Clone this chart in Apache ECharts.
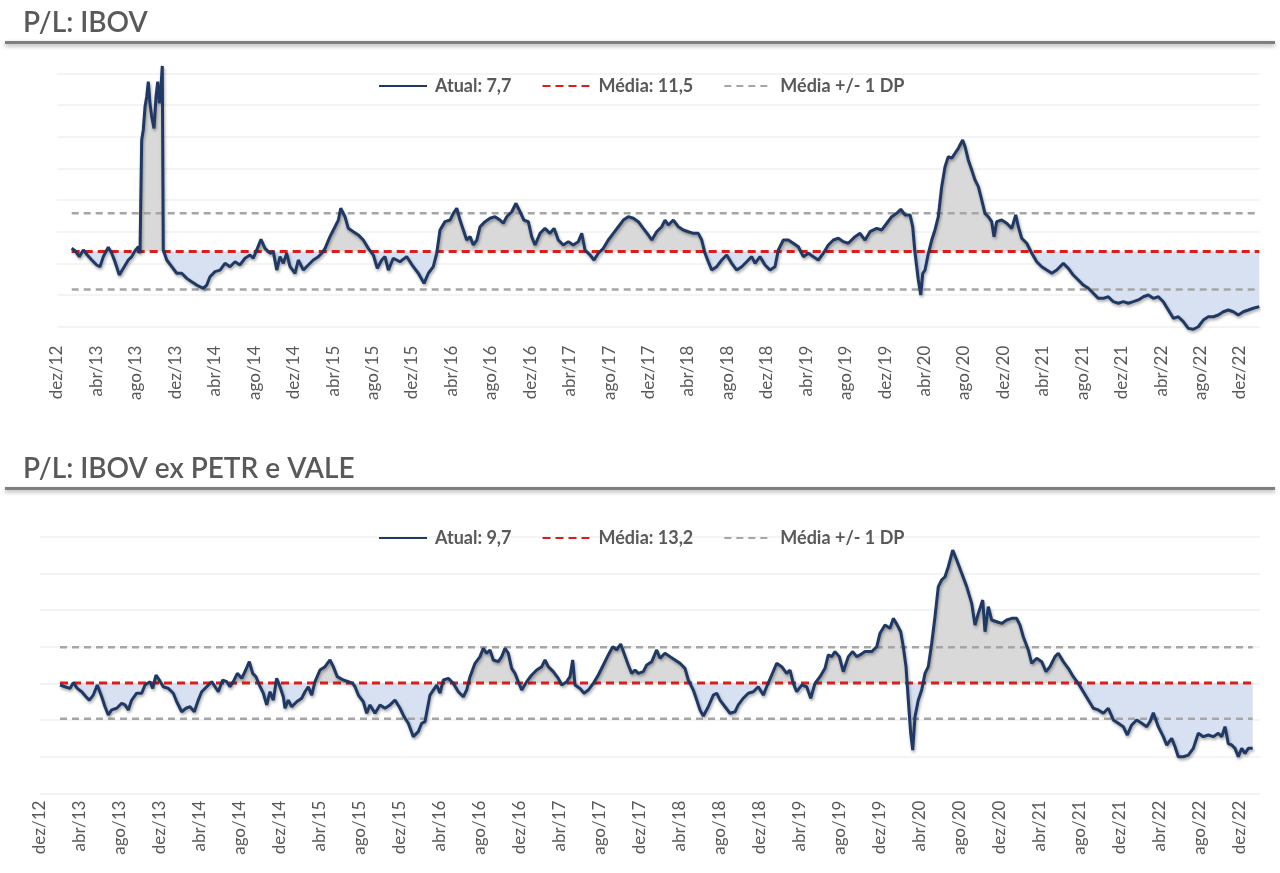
<!DOCTYPE html>
<html>
<head>
<meta charset="utf-8">
<script src="https://cdn.jsdelivr.net/npm/echarts@6/dist/echarts.min.js"></script>
<style>html,body{margin:0;padding:0;background:#fff}#c{width:1280px;height:873px}</style>
</head>
<body>
<div id="c"></div>
<script>
// ---- Tick labels (x axis, every 4 months starting dez/12) ----
const xTickLabels = ['dez/12','abr/13','ago/13','dez/13','abr/14','ago/14','dez/14','abr/15','ago/15','dez/15',
  'abr/16','ago/16','dez/16','abr/17','ago/17','dez/17','abr/18','ago/18','dez/18','abr/19','ago/19','dez/19',
  'abr/20','ago/20','dez/20','abr/21','ago/21','dez/21','abr/22','ago/22','dez/22'];

// ---- Panel 1: P/L IBOV (x = months since dez/12) ----
const ibovMonths = [1.49,1.83,2.26,2.67,3.07,3.52,4.03,4.36,4.70,5.20,
  5.55,5.88,6.32,6.73,7.23,7.58,7.91,8.25,8.42,8.59,
  8.75,8.93,9.10,9.26,9.43,9.61,9.84,10.04,10.22,10.38,
  10.55,10.68,10.78,11.13,11.64,12.14,12.65,13.16,13.66,14.17,
  14.84,15.19,15.52,16.03,16.54,17.04,17.55,18.06,18.56,19.07,
  19.58,19.91,20.26,20.69,21.10,21.61,21.94,22.29,22.62,22.96,
  23.30,23.64,24.14,24.48,24.99,25.49,26.00,26.51,26.85,27.19,
  27.69,28.20,28.54,28.78,29.21,29.55,30.06,30.56,31.07,31.58,
  32.09,32.49,32.94,33.27,33.61,34.11,34.79,35.47,36.14,36.65,
  37.23,37.67,38.17,38.52,38.85,39.36,39.87,40.20,40.55,40.88,
  41.22,41.56,41.90,42.23,42.58,42.91,43.42,43.92,44.43,44.94,
  45.27,45.62,46.13,46.56,46.97,47.37,47.81,48.15,48.49,49.00,
  49.50,50.01,50.42,50.85,51.36,51.87,52.37,52.88,53.23,53.56,
  54.07,54.47,54.91,55.42,55.92,56.43,56.94,57.45,57.95,58.46,
  58.97,59.47,59.98,60.33,60.83,61.34,61.68,62.01,62.52,63.03,
  63.53,64.04,64.55,65.05,65.40,65.73,66.07,66.41,66.92,67.43,
  67.93,68.44,68.95,69.46,69.96,70.47,70.81,71.31,71.82,72.33,
  72.83,73.17,73.68,74.18,74.69,75.20,75.71,76.21,76.72,77.23,
  77.73,78.24,78.75,79.26,79.76,80.27,80.95,81.46,81.96,82.47,
  83.15,83.66,84.17,84.67,85.18,85.59,86.02,86.53,86.80,87.04,
  87.37,87.62,87.82,88.05,88.39,88.73,89.06,89.40,89.74,90.08,
  90.41,90.76,91.09,91.43,91.87,92.11,92.44,92.79,93.12,93.46,
  93.80,94.13,94.47,94.81,95.05,95.32,95.83,96.34,96.85,97.25,
  97.52,97.86,98.37,98.88,99.38,99.89,100.40,100.91,101.41,102.08,
  102.59,103.09,103.60,104.11,104.62,105.12,105.63,106.14,106.64,107.15,
  107.66,108.17,108.67,109.18,109.69,110.20,110.70,111.21,111.72,112.22,
  112.73,113.24,113.74,114.25,114.76,115.27,115.77,116.28,116.79,117.30,
  117.80,118.31,118.82,119.32,119.83,120.34,120.85,121.35,121.96];
const ibovPL = [11.71,11.55,11.14,11.60,11.25,10.91,10.57,10.45,11.14,11.78,
  11.37,10.79,9.88,10.34,10.91,11.14,11.55,11.82,11.37,19.14,
  19.83,21.43,22.11,23.14,21.66,20.74,19.94,22.11,23.14,21.66,
  22.80,24.22,11.60,10.91,10.45,10.00,10.00,9.65,9.42,9.19,
  8.97,9.19,9.76,10.11,10.22,10.68,10.45,10.79,10.57,11.03,
  11.25,11.03,11.60,12.33,11.71,11.37,11.48,10.22,11.14,10.68,
  11.37,10.45,10.00,10.91,10.22,10.57,10.91,11.14,11.37,11.71,
  12.51,13.19,13.65,14.46,13.88,13.08,12.85,12.63,12.28,11.71,
  11.25,10.34,10.91,11.14,10.22,11.03,10.79,11.14,10.45,10.00,
  9.31,10.00,10.45,11.37,12.97,13.54,13.65,14.11,14.46,13.65,
  12.97,12.28,12.51,11.94,12.28,13.19,13.54,13.77,13.88,13.65,
  13.43,13.88,14.22,14.80,14.22,13.65,13.54,12.51,11.94,12.74,
  13.08,12.74,13.08,12.28,11.94,12.17,11.94,12.17,12.74,11.60,
  11.25,10.91,11.37,11.71,12.28,12.74,13.19,13.65,13.88,13.77,
  13.54,13.08,12.63,12.28,12.85,13.19,13.65,13.31,13.65,13.19,
  12.97,12.85,12.74,12.74,12.28,11.37,10.79,10.22,10.45,10.91,
  11.25,10.68,10.22,10.45,10.79,11.14,10.68,11.14,10.57,10.22,
  10.45,11.60,12.28,12.28,12.06,11.82,11.14,11.37,11.14,10.91,
  11.37,11.94,12.28,12.40,12.17,12.06,12.51,12.74,12.28,12.85,
  13.08,12.97,13.43,13.88,14.11,14.39,14.00,14.00,13.19,11.37,
  9.54,8.51,10.00,10.22,11.37,12.28,12.97,13.88,15.94,17.31,
  18.00,17.89,18.23,18.57,19.14,18.68,17.77,17.08,16.40,15.94,
  15.03,14.11,13.88,13.54,12.51,13.54,13.65,13.43,13.08,14.00,
  13.19,12.40,12.06,11.37,10.79,10.45,10.22,10.00,10.22,10.68,
  10.34,9.88,9.54,9.19,8.97,8.63,8.28,8.28,8.39,8.05,
  7.94,8.05,7.94,8.05,8.17,8.39,8.51,8.28,8.39,8.05,
  7.48,6.91,7.02,6.68,6.22,6.16,6.33,6.79,7.02,7.02,
  7.14,7.36,7.48,7.36,7.14,7.36,7.48,7.60,7.71];
const ibovMean = 11.5;
const ibovSD = 2.61;
const ibovNames = ['Atual: 7,7', 'Média: 11,5', 'Média +/- 1 DP'];

// ---- Panel 2: P/L IBOV ex PETR e VALE ----
const exMonths = [2.0,2.5,3.0,3.33,3.73,4.17,4.6,4.93,5.33,5.73,
  6.17,6.5,6.83,7.17,7.67,8.17,8.5,8.83,9.17,9.67,
  10.17,10.5,11.0,11.27,11.6,11.93,12.33,12.83,13.33,13.67,
  14.17,14.6,15.0,15.43,15.83,16.17,16.67,17.17,17.5,17.83,
  18.27,18.67,19.0,19.33,19.73,20.17,20.57,20.93,21.27,21.6,
  21.93,22.33,22.67,23.0,23.33,23.67,24.0,24.33,24.5,24.83,
  25.17,25.67,26.17,26.5,26.83,27.17,27.5,28.0,28.5,29.0,
  29.33,29.73,30.33,30.83,31.27,31.5,31.83,32.33,32.67,33.0,
  33.5,34.0,34.5,35.0,35.5,36.0,36.4,36.83,37.33,37.83,
  38.17,38.5,39.0,39.33,39.67,40.0,40.33,40.83,41.33,41.83,
  42.33,42.67,43.0,43.5,44.0,44.33,44.67,45.0,45.33,45.83,
  46.17,46.5,46.83,47.17,47.5,47.83,48.17,48.67,49.17,49.67,
  50.17,50.5,50.83,51.33,51.83,52.17,52.67,53.0,53.27,53.5,
  54.0,54.4,54.83,55.33,55.83,56.33,56.83,57.27,57.67,58.07,
  58.4,58.83,59.17,59.5,59.83,60.33,60.67,61.17,61.67,62.0,
  62.5,63.0,63.5,64.0,64.5,64.83,65.33,65.67,66.0,66.33,
  66.83,67.33,67.67,68.0,68.5,69.0,69.5,69.83,70.33,70.83,
  71.33,71.83,72.33,72.67,73.17,73.67,74.17,74.67,75.0,75.33,
  75.67,76.17,76.67,77.07,77.5,78.0,78.5,78.83,79.17,79.5,
  79.93,80.33,80.83,81.27,81.67,82.0,82.5,83.17,83.67,84.0,
  84.5,85.0,85.33,85.73,86.07,86.33,86.6,86.83,87.07,87.27,
  87.5,87.83,88.17,88.5,88.83,89.17,89.5,89.83,90.17,90.5,
  90.83,91.27,91.67,92.17,92.67,93.17,93.5,93.83,94.27,94.5,
  94.83,95.17,95.67,96.17,96.67,97.17,97.67,98.0,98.33,98.83,
  99.17,99.67,100.17,100.6,101.0,101.5,101.83,102.33,102.83,103.33,
  103.83,104.33,104.83,105.33,105.83,106.33,106.83,107.33,107.83,108.33,
  108.73,109.17,109.67,110.17,110.67,111.0,111.33,111.83,112.33,112.67,
  113.17,113.5,113.83,114.33,114.83,115.33,115.83,116.33,116.83,117.33,
  117.83,118.17,118.5,118.83,119.17,119.5,119.83,120.17,120.5,120.83,121.27];
const exPL = [13.09,13.00,12.91,13.22,12.91,12.73,12.46,12.28,12.55,13.09,
  12.46,11.92,11.48,11.75,11.84,12.11,12.02,11.75,12.28,12.65,
  12.65,13.09,13.27,12.91,13.63,13.36,13.00,12.91,12.65,12.19,
  11.65,11.84,11.92,11.65,12.28,12.73,13.00,13.27,13.00,12.73,
  13.36,13.27,13.00,13.27,13.72,13.45,13.90,14.35,13.72,13.54,
  13.09,12.65,12.02,12.73,12.28,13.45,13.00,12.46,11.84,12.28,
  11.92,12.19,12.38,12.73,13.00,12.55,13.27,13.90,14.08,14.44,
  14.08,13.54,13.36,13.27,13.18,13.00,12.55,12.19,11.57,12.02,
  11.57,12.02,11.84,12.02,12.28,11.84,11.39,11.03,10.31,10.58,
  11.03,11.12,12.55,12.82,13.09,12.65,13.36,13.45,13.18,12.73,
  12.46,12.82,13.54,14.26,14.62,15.07,14.80,14.98,14.44,14.35,
  14.62,15.07,14.80,13.99,13.72,13.27,12.82,13.27,13.63,13.90,
  14.08,14.44,14.08,13.81,13.45,13.09,13.27,13.54,14.44,13.09,
  12.91,12.65,12.82,13.18,13.63,14.17,14.71,15.15,14.98,15.30,
  14.80,14.17,13.72,13.90,13.72,13.81,14.17,14.35,14.98,14.53,
  14.80,14.62,14.44,14.26,13.99,13.36,12.82,12.28,11.75,11.42,
  11.92,12.55,12.65,12.28,11.92,11.57,11.65,12.02,12.38,12.65,
  12.73,13.00,12.55,13.00,13.63,14.26,14.08,13.72,13.90,13.18,
  12.73,13.09,13.00,12.38,13.18,13.54,13.99,14.71,14.62,14.89,
  14.62,13.81,14.62,14.89,14.62,14.71,14.89,14.89,15.15,15.88,
  16.32,16.15,16.68,16.32,15.96,15.15,14.08,12.28,10.49,9.59,
  11.39,12.28,12.82,13.72,14.08,15.34,16.77,18.39,18.75,18.92,
  19.46,20.36,19.82,19.11,18.39,17.49,16.32,16.95,17.67,15.96,
  17.31,16.59,16.50,16.41,16.59,16.68,16.68,16.32,15.69,14.98,
  14.26,14.53,14.35,13.81,14.08,14.62,14.80,14.35,13.99,13.54,
  13.18,12.73,12.28,11.84,11.75,11.57,11.84,11.21,11.03,10.85,
  10.40,10.94,11.21,11.03,10.85,11.12,11.60,10.85,10.31,9.86,
  10.22,9.77,9.23,9.23,9.32,9.68,10.49,10.31,10.40,10.31,
  10.49,10.31,10.85,9.93,9.86,9.68,9.23,9.68,9.41,9.68,9.68];
const exMean = 13.2;
const exSD = 1.93;
const exNames = ['Atual: 9,7', 'Média: 13,2', 'Média +/- 1 DP'];

// ---- styling ----
const FONT = 'Lato, "Open Sans", sans-serif';
const TXT = '#595959';
const NAVY = '#1f3864';
const RED = '#dd1c1c';
const GREY = '#a6a6a6';
const FILL_UP = '#d9d9d9';
const FILL_DN = '#d7e1f2';

function buildSeries(idx, months, vals, mean, sd, names) {
  const n = Math.min(months.length, vals.length);
  const pts = [], up = [], dn = [];
  for (let i = 0; i < n; i++) {
    pts.push([months[i], vals[i]]);
    up.push([months[i], Math.max(vals[i], mean)]);
    dn.push([months[i], Math.min(vals[i], mean)]);
  }
  const x0 = months[0], x1 = months[n - 1];
  const base = { type: 'line', xAxisIndex: idx, yAxisIndex: idx * 2, symbol: 'none', clip: false, animation: false };
  return [
    Object.assign({}, base, { data: up, silent: true, lineStyle: { width: 0 },
      areaStyle: { origin: mean, color: FILL_UP, opacity: 1 }, z: 1 }),
    Object.assign({}, base, { data: dn, silent: true, lineStyle: { width: 0 },
      areaStyle: { origin: mean, color: FILL_DN, opacity: 1 }, z: 1 }),
    Object.assign({}, base, { name: names[2], data: [[x0, mean + sd], [x1, mean + sd]],
      lineStyle: { color: GREY, width: 2.5, type: [7, 5] }, itemStyle: { color: GREY }, z: 2 }),
    Object.assign({}, base, { name: names[2], data: [[x0, mean - sd], [x1, mean - sd]],
      lineStyle: { color: GREY, width: 2.5, type: [7, 5] }, itemStyle: { color: GREY }, z: 2 }),
    Object.assign({}, base, { name: names[1], data: [[x0, mean], [x1, mean]],
      lineStyle: { color: RED, width: 3, type: [8, 5] }, itemStyle: { color: RED }, z: 3 }),
    Object.assign({}, base, { name: names[0], data: pts,
      lineStyle: { color: NAVY, width: 3, shadowColor: 'rgba(0,0,0,0.35)', shadowBlur: 3, shadowOffsetX: 1, shadowOffsetY: 2 },
      itemStyle: { color: NAVY }, z: 4 })
  ];
}

function xAxisFor(idx, margin) {
  return {
    type: 'value', gridIndex: idx, min: 0, max: 122, interval: 4,
    axisLine: { show: false }, axisTick: { show: false }, splitLine: { show: false },
    axisLabel: {
      rotate: 90, margin: margin, color: TXT, fontSize: 17, fontFamily: FONT,
      formatter: v => (Math.abs(v % 4) < 1e-9 && xTickLabels[v / 4] !== undefined) ? xTickLabels[v / 4] : ''
    }
  };
}
function yAxesFor(idx, min, max, gridCount) {
  return [
    { type: 'value', gridIndex: idx, min: min, max: max, show: false },
    { type: 'value', gridIndex: idx, min: 0, max: gridCount, interval: 1, position: 'right',
      axisLine: { show: false }, axisTick: { show: false }, axisLabel: { show: false },
      splitLine: { show: true, lineStyle: { color: '#f0f0f0', width: 1.5 } } }
  ];
}
function legendFor(names, top) {
  return {
    data: names, left: 373, top: top, itemWidth: 48, itemHeight: 14, itemGap: 30,
    selectedMode: false,
    itemStyle: { color: 'rgba(0,0,0,0)', borderColor: 'rgba(0,0,0,0)', borderWidth: 0 },
    textStyle: { color: TXT, fontSize: 18, fontWeight: 'bold', fontFamily: FONT, padding: [0, 0, 0, 3] }
  };
}

const chart = echarts.init(document.getElementById('c'), null, { renderer: 'canvas' });
chart.setOption({
  backgroundColor: '#ffffff',
  animation: false,
  title: [
    { text: 'P/L: IBOV', left: 18, top: 4, textStyle: { color: TXT, fontSize: 28, fontWeight: 600, fontFamily: FONT } },
    { text: 'P/L: IBOV ex PETR e VALE', left: 18, top: 450, textStyle: { color: TXT, fontSize: 28, fontWeight: 600, fontFamily: FONT } }
  ],
  graphic: [
    { type: 'rect', shape: { x: 5, y: 41, width: 1270, height: 3 }, style: { fill: '#7f7f7f', shadowBlur: 4, shadowOffsetY: 2, shadowColor: 'rgba(0,0,0,0.35)' } },
    { type: 'rect', shape: { x: 5, y: 487, width: 1270, height: 3 }, style: { fill: '#7f7f7f', shadowBlur: 4, shadowOffsetY: 2, shadowColor: 'rgba(0,0,0,0.35)' } }
  ],
  legend: [legendFor(ibovNames, 72), legendFor(exNames, 524)],
  grid: [
    { left: 57, width: 1202.7, top: 73.3, height: 253.4 },
    { left: 40, width: 1220, top: 536.7, height: 256.9 }
  ],
  xAxis: [xAxisFor(0, 19), xAxisFor(1, 7)],
  yAxis: [].concat(yAxesFor(0, 6.335, 23.715, 8), yAxesFor(1, 7.244, 21.078, 7)),
  series: [].concat(
    buildSeries(0, ibovMonths, ibovPL, ibovMean, ibovSD, ibovNames),
    buildSeries(1, exMonths, exPL, exMean, exSD, exNames)
  )
});
</script>
</body>
</html>
